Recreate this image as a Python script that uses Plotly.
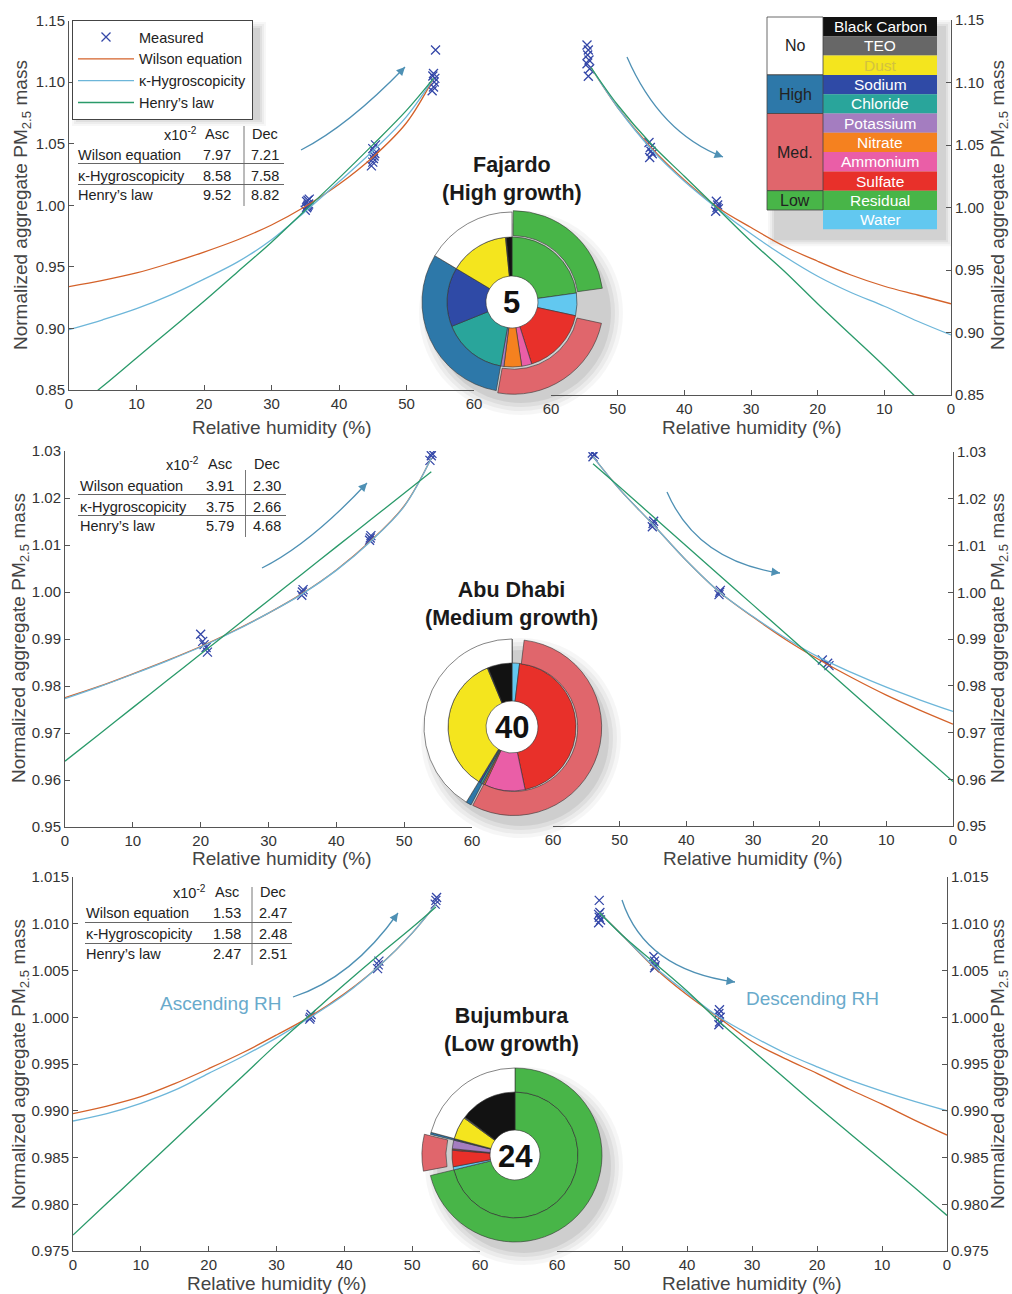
import plotly.graph_objects as go

W, H = 1012, 1294
FONT = "Liberation Sans, Arial, sans-serif"

# ------------------------------------------------------------------ data
rh_asc = [0, 5, 10, 15, 20, 25, 30, 35, 40, 45, 50, 54]
rh_dec = [54, 50, 45, 40, 35, 30, 25, 20, 15, 10, 5, 0]
rh_asc_bu = [0, 5, 10, 15, 20, 25, 30, 35, 40, 45, 50, 53.5]
rh_dec_bu = [53.5, 50, 45, 40, 35, 30, 25, 20, 15, 10, 5, 0]

# Fajardo (high growth)
faj_asc_wilson = [0.934, 0.939, 0.945, 0.953, 0.962, 0.972, 0.984, 0.999, 1.017, 1.039, 1.067, 1.103]
faj_asc_kappa = [0.899, 0.907, 0.916, 0.927, 0.940, 0.954, 0.972, 0.995, 1.019, 1.044, 1.072, 1.103]
faj_asc_henry = [0.831, 0.853, 0.876, 0.899, 0.922, 0.946, 0.970, 0.996, 1.022, 1.049, 1.077, 1.103]
faj_dec_wilson = [1.112, 1.080, 1.048, 1.022, 1.000, 0.984, 0.969, 0.957, 0.946, 0.937, 0.930, 0.923]
faj_dec_kappa = [1.112, 1.080, 1.047, 1.021, 0.999, 0.979, 0.961, 0.945, 0.932, 0.921, 0.909, 0.898]
faj_dec_henry = [1.112, 1.082, 1.051, 1.025, 0.999, 0.973, 0.949, 0.923, 0.898, 0.873, 0.847, 0.822]
faj_asc_rh = [35.0, 35.2, 35.3, 35.4, 35.5, 35.2, 35.4, 35.6, 44.8, 45.0, 45.1, 45.2, 45.3, 45.0, 45.4,
              53.8, 54.0, 54.1, 54.2, 53.9, 54.0, 54.3]
faj_asc_mass = [0.996, 0.998, 0.999, 1.000, 1.001, 1.003, 1.004, 1.005, 1.032, 1.035, 1.038, 1.040, 1.042,
                1.046, 1.049, 1.093, 1.096, 1.100, 1.103, 1.105, 1.107, 1.126]
faj_dec_rh = [54.6, 54.4, 54.5, 54.3, 54.6, 54.2, 54.4, 45.3, 45.1, 45.0, 44.8, 45.2, 35.2, 35.0, 35.1, 34.9, 35.3]
faj_dec_mass = [1.130, 1.126, 1.122, 1.118, 1.115, 1.111, 1.105, 1.052, 1.048, 1.045, 1.043, 1.040,
                1.005, 1.002, 1.000, 0.999, 0.997]

# Abu Dhabi (medium growth)
abu_asc_wilson = [0.9775, 0.9799, 0.9826, 0.9854, 0.9884, 0.9918, 0.9955, 0.9997, 1.0047, 1.0108, 1.0183, 1.0285]
abu_asc_kappa = [0.9773, 0.9798, 0.9825, 0.9853, 0.9883, 0.9917, 0.9955, 0.9996, 1.0046, 1.0107, 1.0182, 1.0285]
abu_asc_henry = [0.9640, 0.9697, 0.9754, 0.9811, 0.9868, 0.9925, 0.9982, 1.0039, 1.0096, 1.0153, 1.0210, 1.0256]
abu_dec_wilson = [1.0290, 1.0220, 1.0145, 1.0068, 1.0000, 0.9947, 0.9898, 0.9855, 0.9816, 0.9780, 0.9748, 0.9718]
abu_dec_kappa = [1.0290, 1.0220, 1.0145, 1.0068, 1.0000, 0.9948, 0.9901, 0.9860, 0.9827, 0.9797, 0.9770, 0.9745]
abu_dec_henry = [1.0275, 1.0225, 1.0162, 1.0099, 1.0036, 0.9973, 0.9910, 0.9847, 0.9784, 0.9721, 0.9658, 0.9595]
abu_asc_rh = [20.0, 20.3, 20.5, 20.8, 21.0, 34.9, 35.0, 35.1, 44.9, 45.0, 45.1, 53.8, 54.0, 54.1]
abu_asc_mass = [0.9910, 0.9895, 0.9888, 0.9882, 0.9872, 0.9993, 1.0000, 1.0005, 1.0110, 1.0115, 1.0120,
                1.0280, 1.0290, 1.0295]
abu_dec_rh = [54.0, 53.8, 54.1, 45.1, 45.0, 44.9, 35.1, 35.0, 34.9, 19.6, 18.8, 18.6]
abu_dec_mass = [1.0290, 1.0295, 1.0298, 1.0140, 1.0147, 1.0152, 0.9995, 1.0000, 1.0004, 0.9855, 0.9848, 0.9843]

# Bujumbura (low growth)
bu_asc_wilson = [0.9897, 0.9905, 0.9915, 0.9929, 0.9945, 0.9962, 0.9981, 1.0001, 1.0025, 1.0054, 1.0090, 1.0121]
bu_asc_kappa = [0.9889, 0.9897, 0.9908, 0.9922, 0.9940, 0.9958, 0.9978, 1.0000, 1.0024, 1.0054, 1.0090, 1.0121]
bu_asc_henry = [0.9767, 0.9801, 0.9835, 0.9869, 0.9903, 0.9937, 0.9971, 1.0003, 1.0035, 1.0066, 1.0096, 1.0118]
bu_dec_wilson = [1.0112, 1.0088, 1.0053, 1.0024, 0.9999, 0.9974, 0.9956, 0.9940, 0.9923, 0.9907, 0.9890, 0.9874]
bu_dec_kappa = [1.0112, 1.0088, 1.0054, 1.0026, 1.0000, 0.9980, 0.9962, 0.9947, 0.9933, 0.9921, 0.9910, 0.9900]
bu_dec_henry = [1.0112, 1.0088, 1.0058, 1.0028, 0.9995, 0.9965, 0.9935, 0.9905, 0.9876, 0.9847, 0.9818, 0.9788]
bu_asc_rh = [34.9, 35.0, 35.1, 44.9, 45.0, 45.1, 53.4, 53.5, 53.6]
bu_asc_mass = [0.9998, 1.0000, 1.0003, 1.0052, 1.0056, 1.0060, 1.0121, 1.0125, 1.0128]
bu_dec_rh = [53.5, 53.4, 53.6, 53.5, 53.3, 53.6, 45.1, 45.0, 44.9, 45.0, 35.0, 35.1, 34.9, 35.0, 35.1]
bu_dec_mass = [1.0125, 1.0112, 1.0110, 1.0107, 1.0104, 1.0101, 1.0065, 1.0060, 1.0055, 1.0053,
               1.0008, 1.0004, 1.0000, 0.9995, 0.9992]

# error table (x10^-2)
models = ["Wilson equation", "\u03ba-Hygroscopicity", "Henry\u2019s law"]
faj_err_asc = ["7.97", "8.58", "9.52"]
faj_err_dec = ["7.21", "7.58", "8.82"]
abu_err_asc = ["3.91", "3.75", "5.79"]
abu_err_dec = ["2.30", "2.66", "4.68"]
bu_err_asc = ["1.53", "1.58", "2.47"]
bu_err_dec = ["2.47", "2.48", "2.51"]

# composition (%), listed counter-clockwise from 12 o'clock
species = ["Black Carbon", "TEO", "Dust", "Sodium", "Chloride", "Potassium", "Nitrate",
           "Ammonium", "Sulfate", "Water", "Residual"]
faj_comp = [1.4, 0.2, 14.8, 14.7, 16.1, 0.8, 4.4, 2.5, 16.7, 5.6, 22.8]
abu_comp = [6.1, 0.2, 35.0, 0.5, 0.5, 0.3, 0.4, 10.3, 44.8, 1.9, 0.0]
bu_comp = [14.7, 0.3, 5.8, 0.2, 0.2, 2.2, 0.2, 0.2, 4.2, 0.8, 71.2]
growth_groups = ["No", "High", "Med.", "", "Low"]
group_members = [["Black Carbon", "TEO", "Dust"], ["Sodium", "Chloride"],
                 ["Potassium", "Nitrate", "Ammonium", "Sulfate"], ["Water"], ["Residual"]]
site_numbers = ["5", "40", "24"]
site_titles = ["Fajardo<br>(High growth)", "Abu Dhabi<br>(Medium growth)", "Bujumbura<br>(Low growth)"]

# ------------------------------------------------------------------ styles
C_WIL, C_KAP, C_HEN = "#D4622A", "#6DB6D9", "#2A9A6A"
C_MEAS = "#3447A8"
C_ARROW = "#4E90B4"
species_colors = {"Black Carbon": "#121212", "TEO": "#676767", "Dust": "#F4E51E",
                  "Sodium": "#2F4AA6", "Chloride": "#29A59B", "Potassium": "#A47DC0",
                  "Nitrate": "#F5811F", "Ammonium": "#EA5EA7", "Sulfate": "#E8302A",
                  "Residual": "#48B548", "Water": "#62C8F0"}
group_colors = {"No": "#FFFFFF", "High": "#2D78A9", "Med.": "#E0666C", "": "rgba(0,0,0,0)", "Low": "#48B548"}


def X(px):
    return px / W


def Y(py):
    return 1 - py / H


def ann(px, py, text, **kw):
    d = dict(x=X(px), y=Y(py), xref="paper", yref="paper", text=text, showarrow=False,
             xanchor="center", yanchor="middle")
    d.update(kw)
    return d


fig = go.Figure()

# panel geometry in px: (x0, x1, ytop, ybottom)
panels = [
    dict(box=(69, 474, 20.5, 390), yr=[0.85, 1.15], dt=0.05, fmt=".2f", side="left", xr=[0, 60]),
    dict(box=(551, 951, 20, 395), yr=[0.85, 1.15], dt=0.05, fmt=".2f", side="right", xr=[60, 0]),
    dict(box=(65, 472, 451, 827), yr=[0.95, 1.03], dt=0.01, fmt=".2f", side="left", xr=[0, 60]),
    dict(box=(553, 953, 452, 826), yr=[0.95, 1.03], dt=0.01, fmt=".2f", side="right", xr=[60, 0]),
    dict(box=(73, 480, 877, 1251), yr=[0.975, 1.015], dt=0.005, fmt=".3f", side="left", xr=[0, 60]),
    dict(box=(557, 947, 877, 1251), yr=[0.975, 1.015], dt=0.005, fmt=".3f", side="right", xr=[60, 0]),
]

axis_common = dict(showline=True, linecolor="#555", linewidth=1, ticks="inside", ticklen=5,
                   tickcolor="#555", tickfont=dict(family=FONT, size=15, color="#333"),
                   showgrid=False, zeroline=False, fixedrange=True, automargin=False)
for i, p in enumerate(panels, start=1):
    x0, x1, yt, yb = p["box"]
    xn = "xaxis" if i == 1 else f"xaxis{i}"
    yn = "yaxis" if i == 1 else f"yaxis{i}"
    fig.layout[xn] = dict(domain=[X(x0), X(x1)], range=p["xr"], dtick=10, tick0=0,
                          anchor="y" if i == 1 else f"y{i}", **axis_common)
    fig.layout[yn] = dict(domain=[Y(yb), Y(yt)], range=p["yr"], dtick=p["dt"], tick0=p["yr"][0],
                          tickformat=p["fmt"], side=p["side"],
                          anchor="x" if i == 1 else f"x{i}", **axis_common)

curve_sets = [
    (rh_asc, faj_asc_wilson, faj_asc_kappa, faj_asc_henry, faj_asc_rh, faj_asc_mass),
    (rh_dec, faj_dec_wilson, faj_dec_kappa, faj_dec_henry, faj_dec_rh, faj_dec_mass),
    (rh_asc, abu_asc_wilson, abu_asc_kappa, abu_asc_henry, abu_asc_rh, abu_asc_mass),
    (rh_dec, abu_dec_wilson, abu_dec_kappa, abu_dec_henry, abu_dec_rh, abu_dec_mass),
    (rh_asc_bu, bu_asc_wilson, bu_asc_kappa, bu_asc_henry, bu_asc_rh, bu_asc_mass),
    (rh_dec_bu, bu_dec_wilson, bu_dec_kappa, bu_dec_henry, bu_dec_rh, bu_dec_mass),
]
for i, (rh, wil, kap, hen, mrh, mm) in enumerate(curve_sets, start=1):
    xa = "x" if i == 1 else f"x{i}"
    ya = "y" if i == 1 else f"y{i}"
    first = i == 1
    fig.add_trace(go.Scatter(x=mrh, y=mm, mode="markers", name="Measured", showlegend=first,
                             marker=dict(symbol="x-thin", size=9, line=dict(color=C_MEAS, width=1.3)),
                             xaxis=xa, yaxis=ya))
    for name, vals, col in [("Wilson equation", wil, C_WIL), ("\u03ba-Hygroscopicity", kap, C_KAP),
                            ("Henry\u2019s law", hen, C_HEN)]:
        fig.add_trace(go.Scatter(x=rh, y=vals, mode="lines", name=name, showlegend=first,
                                 line=dict(color=col, width=1.3, shape="spline", smoothing=1.0),
                                 xaxis=xa, yaxis=ya))

shapes = []
annotations = []

# axis titles
ytitle = "Normalized aggregate PM<sub>2.5</sub> mass"
for cx, cy in [(282, 427), (752, 427), (282, 858), (753, 858), (277, 1283), (752, 1283)]:
    annotations.append(ann(cx, cy, "Relative humidity (%)", font=dict(family=FONT, size=19, color="#444")))
for cx, cy in [(22, 205), (999, 205), (20, 638), (999, 638), (20, 1064), (999, 1064)]:
    annotations.append(ann(cx, cy, ytitle, textangle=-90, font=dict(family=FONT, size=19, color="#444")))

# error tables
tables = [
    dict(hy=134, ry=[155, 176, 195], nx=76, ax=217, dx=265, ex=199, vx=244, vy=(126, 206),
         hl=[163.5, 184.5], hx=(78, 284), asc=faj_err_asc, dec=faj_err_dec),
    dict(hy=464, ry=[486, 507, 526], nx=78, ax=220, dx=267, ex=201, vx=245.5, vy=(470, 537),
         hl=[494.5, 515.5], hx=(78, 286), asc=abu_err_asc, dec=abu_err_dec),
    dict(hy=892, ry=[913, 934, 954], nx=84, ax=227, dx=273, ex=208, vx=252, vy=(887, 965),
         hl=[922.5, 943.5], hx=(85, 292), asc=bu_err_asc, dec=bu_err_dec),
]
tf = dict(family=FONT, size=14.5, color="#222")
for t in tables:
    annotations.append(ann(t["ex"], t["hy"], "x10<sup>-2</sup>", xanchor="right", font=tf))
    annotations.append(ann(t["ax"], t["hy"], "Asc", font=tf))
    annotations.append(ann(t["dx"], t["hy"], "Dec", font=tf))
    for yy, m, a, d in zip(t["ry"], models, t["asc"], t["dec"]):
        annotations.append(ann(t["nx"], yy, m, xanchor="left", font=tf))
        annotations.append(ann(t["ax"], yy, a, font=tf))
        annotations.append(ann(t["dx"], yy, d, font=tf))
    shapes.append(dict(type="line", xref="paper", yref="paper", x0=X(t["vx"]), x1=X(t["vx"]),
                       y0=Y(t["vy"][0]), y1=Y(t["vy"][1]), line=dict(color="#777", width=1)))
    for hy in t["hl"]:
        shapes.append(dict(type="line", xref="paper", yref="paper", x0=X(t["hx"][0]), x1=X(t["hx"][1]),
                           y0=Y(hy), y1=Y(hy), line=dict(color="#666", width=1)))

# arrows (quadratic curves) and direction labels
arrows = [((301, 150), (348, 126), (405, 67)), ((627, 57), (660, 133), (723, 157)),
          ((262, 568), (310, 544), (367, 483)), ((667, 492), (697, 561), (780, 573)),
          ((293, 997), (352, 978), (398, 913)), ((622, 900), (645, 970), (735, 982))]
for (p0, c, p2) in arrows:
    path = f"M {X(p0[0])},{Y(p0[1])} Q {X(c[0])},{Y(c[1])} {X(p2[0])},{Y(p2[1])}"
    shapes.append(dict(type="path", xref="paper", yref="paper", path=path,
                       line=dict(color=C_ARROW, width=1.3)))
    dxv, dyv = c[0] - p2[0], c[1] - p2[1]
    ln = (dxv ** 2 + dyv ** 2) ** 0.5
    annotations.append(dict(x=X(p2[0]), y=Y(p2[1]), xref="paper", yref="paper", text="",
                            showarrow=True, arrowhead=2, arrowsize=1.3, arrowwidth=1.3,
                            arrowcolor=C_ARROW, ax=dxv / ln * 8, ay=dyv / ln * 8))
annotations.append(ann(220, 1003, "Ascending RH", font=dict(family=FONT, size=19, color="#69AACB")))
annotations.append(ann(812, 998, "Descending RH", font=dict(family=FONT, size=19, color="#69AACB")))


def soft_shadow(x0, y0, x1, y1, off=(6, 8)):
    for pad, a in [(7, 0.03), (5, 0.04), (3, 0.05), (1, 0.06)]:
        shapes.append(dict(type="rect", xref="paper", yref="paper", layer="below",
                           x0=X(x0 + off[0] - pad), x1=X(x1 + off[0] + pad),
                           y0=Y(y1 + off[1] + pad), y1=Y(y0 + off[1] - pad),
                           fillcolor=f"rgba(0,0,0,{a})", line=dict(width=0)))


# legend shadow
soft_shadow(72, 20, 252, 110, off=(7, 9))

# composition colour key (top right)
key_rows = ["Black Carbon", "TEO", "Dust", "Sodium", "Chloride", "Potassium", "Nitrate",
            "Ammonium", "Sulfate", "Residual", "Water"]
key_groups = [("No", 0, 3), ("High", 3, 5), ("Med.", 5, 9), ("Low", 9, 10)]
kx0, kx1, kx2, ky0, kh = 767, 823, 937, 17, 19.3
soft_shadow(kx0, ky0, kx2, ky0 + kh * 11, off=(8, 10))
for j, s in enumerate(key_rows):
    y0 = ky0 + j * kh
    shapes.append(dict(type="rect", xref="paper", yref="paper", x0=X(kx1), x1=X(kx2), y0=Y(y0 + kh), y1=Y(y0),
                       fillcolor=species_colors[s], line=dict(width=0)))
    tcol = "#D2C23E" if s == "Dust" else "white"
    annotations.append(ann((kx1 + kx2) / 2, y0 + kh / 2, s, font=dict(family=FONT, size=15.5, color=tcol)))
for g, a, b in key_groups:
    y0, y1 = ky0 + a * kh, ky0 + b * kh
    shapes.append(dict(type="rect", xref="paper", yref="paper", x0=X(kx0), x1=X(kx1), y0=Y(y1), y1=Y(y0),
                       fillcolor=group_colors[g], line=dict(color="#444", width=0.8)))
    annotations.append(ann((kx0 + kx1) / 2, (y0 + y1) / 2, g, font=dict(family=FONT, size=16, color="#222")))

# composition donuts (drawn clockwise from 12 o'clock, so the lists are reversed)
donuts = [
    dict(c=(512, 302), rin=65, rout=90, hole=26, comp=faj_comp, pull=[0, 0, 0.03, 0, 0.02], ty=179),
    dict(c=(512, 727), rin=64, rout=88, hole=26, comp=abu_comp, pull=[0, 0, 0.02, 0, 0], ty=604),
    dict(c=(515, 1155), rin=63, rout=87, hole=25, comp=bu_comp, pull=[0, 0, 0.07, 0, 0], ty=1030),
]
for k, d in enumerate(donuts):
    cx, cy = d["c"]
    for pad, a in [(12, 0.035), (8, 0.045), (4, 0.055), (0, 0.07)]:
        r = d["rout"] + pad
        shapes.append(dict(type="circle", xref="paper", yref="paper", layer="below",
                           x0=X(cx + 9 - r), x1=X(cx + 9 + r), y0=Y(cy + 11 + r), y1=Y(cy + 11 - r),
                           fillcolor=f"rgba(0,0,0,{a})", line=dict(width=0)))
    shapes.append(dict(type="circle", xref="paper", yref="paper", layer="below",
                       x0=X(cx - d["hole"]), x1=X(cx + d["hole"]), y0=Y(cy + d["hole"]), y1=Y(cy - d["hole"]),
                       fillcolor="white", line=dict(width=0)))
    comp = dict(zip(species, d["comp"]))
    R = d["rin"]
    sp_rev = species[::-1]
    fig.add_trace(go.Pie(values=[comp[s] for s in sp_rev], labels=sp_rev, sort=False, direction="clockwise",
                         rotation=0, hole=d["hole"] / R, textinfo="none", showlegend=False,
                         marker=dict(colors=[species_colors[s] for s in sp_rev],
                                     line=dict(color="#333", width=0.6)),
                         domain=dict(x=[X(cx - R), X(cx + R)], y=[Y(cy + R), Y(cy - R)])))
    gvals = [sum(comp[m] for m in mem) for mem in group_members][::-1]
    glabels = [g if g else "Water " for g in growth_groups][::-1]
    gcols = [group_colors[g] for g in growth_groups][::-1]
    gpull = d["pull"][::-1]
    glc = ["#333", "#333", "#333", "rgba(0,0,0,0)", "#333"][::-1]
    glw = [0.6, 0.6, 0.6, 0, 0.6][::-1]
    R = d["rout"]
    Rd = R * (1 + max(gpull))
    fig.add_trace(go.Pie(values=gvals, labels=glabels, sort=False, direction="clockwise", rotation=0,
                         hole=d["rin"] / R, textinfo="none", showlegend=False, pull=gpull,
                         marker=dict(colors=gcols, line=dict(color=glc, width=glw)),
                         domain=dict(x=[X(cx - Rd), X(cx + Rd)], y=[Y(cy + Rd), Y(cy - Rd)])))
    annotations.append(ann(cx, cy + 1, f"<b>{site_numbers[k]}</b>", font=dict(family=FONT, size=31, color="#111")))
    annotations.append(ann(512, d["ty"], f"<b>{site_titles[k]}</b>", font=dict(family=FONT, size=21.5, color="#1a1a1a")))

fig.update_layout(
    width=W, height=H, margin=dict(l=0, r=0, t=0, b=0, autoexpand=False),
    paper_bgcolor="white", plot_bgcolor="rgba(0,0,0,0)",
    shapes=shapes, annotations=annotations,
    legend=dict(x=X(72), y=Y(20), xanchor="left", yanchor="top", bgcolor="white",
                bordercolor="#444", borderwidth=1, font=dict(family=FONT, size=14.5, color="#222"),
                tracegroupgap=0, itemwidth=56),
    font=dict(family=FONT),
)

fig.write_html("out.html", config={"displayModeBar": False},
               post_script="document.body.style.margin='0';document.body.style.padding='0';")
